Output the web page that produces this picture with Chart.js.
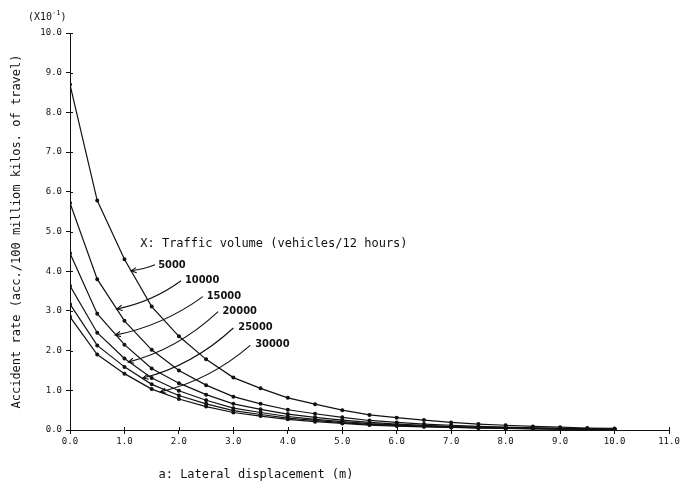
<!DOCTYPE html>
<html>
<head>
<meta charset="utf-8">
<script src="https://cdn.jsdelivr.net/npm/chart.js@4.4.1/dist/chart.umd.min.js"></script>
<style>
  html, body { margin: 0; padding: 0; background: #fff; }
  #wrap { width: 681px; height: 486px; }
</style>
</head>
<body>
<div id="wrap"><canvas id="chart" width="681" height="486"></canvas></div>
<script>
// lateral displacement (m), one point every 0.5
const xValues = [0, 0.5, 1, 1.5, 2, 2.5, 3, 3.5, 4, 4.5, 5, 5.5, 6, 6.5, 7, 7.5, 8, 8.5, 9, 9.5, 10];

// traffic volume (vehicles/12 hours)
const volumes = ["5000", "10000", "15000", "20000", "25000", "30000"];

// accident rate (x10^-1)
const rate5000  = [8.70, 5.78, 4.30, 3.11, 2.36, 1.78, 1.32, 1.05, 0.81, 0.65, 0.50, 0.38, 0.31, 0.25, 0.19, 0.15, 0.12, 0.09, 0.07, 0.05, 0.04];
const rate10000 = [5.72, 3.80, 2.75, 2.02, 1.50, 1.13, 0.84, 0.66, 0.51, 0.41, 0.32, 0.24, 0.19, 0.15, 0.12, 0.09, 0.07, 0.055, 0.04, 0.03, 0.025];
const rate15000 = [4.45, 2.93, 2.15, 1.55, 1.18, 0.89, 0.66, 0.52, 0.40, 0.32, 0.25, 0.19, 0.15, 0.12, 0.095, 0.075, 0.06, 0.045, 0.035, 0.025, 0.02];
const rate20000 = [3.63, 2.45, 1.80, 1.31, 0.99, 0.75, 0.55, 0.44, 0.34, 0.27, 0.21, 0.16, 0.13, 0.10, 0.08, 0.06, 0.05, 0.04, 0.03, 0.02, 0.017];
const rate25000 = [3.17, 2.13, 1.59, 1.15, 0.87, 0.66, 0.49, 0.39, 0.30, 0.24, 0.185, 0.14, 0.115, 0.09, 0.07, 0.055, 0.045, 0.033, 0.026, 0.019, 0.015];
const rate30000 = [2.85, 1.90, 1.42, 1.03, 0.78, 0.59, 0.44, 0.35, 0.27, 0.21, 0.165, 0.125, 0.10, 0.08, 0.063, 0.05, 0.04, 0.03, 0.023, 0.017, 0.013];

const xTicks = [0, 1, 2, 3, 4, 5, 6, 7, 8, 9, 10, 11];
const yTicks = [0, 1, 2, 3, 4, 5, 6, 7, 8, 9, 10];

// label text spot, arrow start, arrow tip (data units)
const labelSpots = [
  { text: [1.62, 4.16], from: [1.56, 4.16], tip: [1.12, 4.01] },
  { text: [2.11, 3.78], from: [2.04, 3.76], tip: [0.86, 3.05] },
  { text: [2.51, 3.38], from: [2.44, 3.36], tip: [0.83, 2.39] },
  { text: [2.80, 3.00], from: [2.72, 2.98], tip: [1.07, 1.71] },
  { text: [3.09, 2.59], from: [3.00, 2.57], tip: [1.34, 1.31] },
  { text: [3.40, 2.17], from: [3.31, 2.13], tip: [1.66, 0.96] }
];

const series = [rate5000, rate10000, rate15000, rate20000, rate25000, rate30000];
const MONO = "'DejaVu Sans Mono', 'Liberation Mono', monospace";
const NARROW = "'DejaVu Sans Condensed', 'Liberation Sans Narrow', 'DejaVu Sans', sans-serif";

const datasets = volumes.map((v, i) => ({
  label: v,
  data: xValues.map((x, j) => ({ x: x, y: series[i][j] })),
  borderColor: "#111",
  backgroundColor: "#111",
  borderWidth: 1.2,
  pointRadius: 1.4,
  pointHoverRadius: 1.4,
  tension: 0
}));

const extras = {
  id: "extras",
  beforeDraw(chart) {
    const c = chart.ctx;
    c.save();
    c.fillStyle = "#fff";
    c.fillRect(0, 0, chart.width, chart.height);
    c.restore();
  },
  afterDraw(chart) {
    const c = chart.ctx;
    const xs = chart.scales.x, ys = chart.scales.y;
    const area = chart.chartArea;
    c.save();
    c.strokeStyle = "#111";
    c.fillStyle = "#111";
    c.lineWidth = 1;

    // inner half of the crossing tick marks
    yTicks.forEach(v => {
      const py = Math.round(ys.getPixelForValue(v)) + 0.5;
      c.beginPath(); c.moveTo(area.left, py); c.lineTo(area.left + 3, py); c.stroke();
    });
    xTicks.forEach(v => {
      const px = Math.round(xs.getPixelForValue(v)) + 0.5;
      c.beginPath(); c.moveTo(px, area.bottom); c.lineTo(px, area.bottom - 3); c.stroke();
    });

    // exponent note
    c.font = "10px " + MONO;
    c.textBaseline = "alphabetic";
    c.textAlign = "left";
    c.fillText("(X10", 28, 20);
    const w = c.measureText("(X10").width;
    c.font = "7px " + MONO;
    c.fillText("-1", 28 + w, 15);
    const w2 = c.measureText("-1").width;
    c.font = "10px " + MONO;
    c.fillText(")", 28 + w + w2, 20);

    // legend heading
    c.font = "12px " + MONO;
    c.textBaseline = "middle";
    c.fillText("X: Traffic volume (vehicles/12 hours)", xs.getPixelForValue(1.29), ys.getPixelForValue(4.7));

    // curve labels with arrows
    c.font = "bold 11px " + NARROW;
    labelSpots.forEach((s, i) => {
      const tx = xs.getPixelForValue(s.text[0]), ty = ys.getPixelForValue(s.text[1]);
      c.fillText(volumes[i], tx, ty);
      const fx = xs.getPixelForValue(s.from[0]), fy = ys.getPixelForValue(s.from[1]);
      const px = xs.getPixelForValue(s.tip[0]), py = ys.getPixelForValue(s.tip[1]);
      const cx = px + 0.55 * (fx - px), cy = py + 0.25 * (fy - py);
      c.lineWidth = 1.1;
      c.beginPath(); c.moveTo(fx, fy); c.quadraticCurveTo(cx, cy, px, py); c.stroke();
      const ang = Math.atan2(py - cy, px - cx);
      const L = 6;
      c.beginPath();
      c.moveTo(px - L * Math.cos(ang - 0.45), py - L * Math.sin(ang - 0.45));
      c.lineTo(px, py);
      c.lineTo(px - L * Math.cos(ang + 0.45), py - L * Math.sin(ang + 0.45));
      c.stroke();
    });

    // axis titles
    c.font = "12px " + MONO;
    c.textAlign = "center";
    c.textBaseline = "middle";
    c.fillText("a: Lateral displacement (m)", 256, 475);
    c.translate(17, (area.top + area.bottom) / 2);
    c.rotate(-Math.PI / 2);
    c.fillText("Accident rate (acc./100 milliom kilos. of travel)", 0, 0);
    c.restore();
  }
};

new Chart(document.getElementById("chart"), {
  type: "line",
  data: { datasets },
  options: {
    responsive: false,
    animation: false,
    layout: { padding: { top: 33, right: 12, left: 0, bottom: 0 } },
    plugins: { legend: { display: false }, tooltip: { enabled: false } },
    scales: {
      x: {
        type: "linear",
        min: 0,
        max: 11,
        afterBuildTicks: s => { s.ticks = xTicks.map(v => ({ value: v })); },
        afterFit: s => { s.height = 56; s.paddingLeft = 0; s.paddingRight = 0; },
        border: { display: true, color: "#111", width: 1 },
        grid: { drawOnChartArea: false, drawTicks: true, tickLength: 4, color: "#111" },
        ticks: {
          color: "#111",
          padding: 2,
          maxRotation: 0,
          autoSkip: false,
          font: { family: MONO, size: 9 },
          callback: v => v.toFixed(1)
        }
      },
      y: {
        type: "linear",
        min: 0,
        max: 10,
        afterBuildTicks: s => { s.ticks = yTicks.map(v => ({ value: v })); },
        afterFit: s => { s.width = 70; s.paddingTop = 0; s.paddingBottom = 0; },
        border: { display: true, color: "#111", width: 1 },
        grid: { drawOnChartArea: false, drawTicks: true, tickLength: 4, color: "#111" },
        ticks: {
          color: "#111",
          padding: 4,
          autoSkip: false,
          font: { family: MONO, size: 9 },
          callback: v => v.toFixed(1)
        }
      }
    }
  },
  plugins: [extras]
});
</script>
</body>
</html>
